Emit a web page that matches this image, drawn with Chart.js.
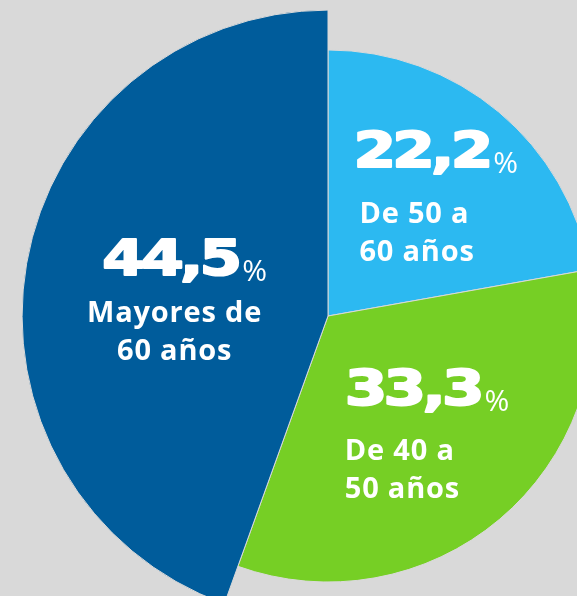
<!DOCTYPE html>
<html>
<head>
<meta charset="utf-8">
<style>
  html, body { margin: 0; padding: 0; background: #d9d9d9; }
  #wrap { width: 577px; height: 596px; position: relative; }
</style>
<script src="https://cdn.jsdelivr.net/npm/chart.js@4.4.0/dist/chart.umd.min.js"></script>
</head>
<body>
<div id="wrap"><canvas id="ageChart"></canvas></div>
<script>
// age groups, clockwise from 12 o'clock
const groups = ["De 50 a 60 años", "De 40 a 50 años", "Mayores de 60 años"];
const captions = [["De 50 a", "60 años"], ["De 40 a", "50 años"], ["Mayores de", "60 años"]];
const shares = [22.2, 33.3, 44.5];          // % of total (slice angle)
const emphasis = [100, 100, 115];           // relative slice length, the big group sticks out
const sliceColors = ["#2cb9f1", "#76cf25", "#005c9b"];

// text layout per slice, relative to the slice's mid point
const labelLayout = [
  { align: 'left',   dx: -72, dy: -33, capDx: 6,   gap: 56 },
  { align: 'left',   dx: -81, dy: -27, capDx: 0,   gap: 55 },
  { align: 'center', dx: 6,   dy: -15, capDx: -10, gap: 47 }
];

const NUM_FONT = 'bold 49px "DejaVu Sans"';
const NUM_STRETCH = 1.25;
const PCT_FONT = '30px "Open Sans"';
const CAP_FONT = 'bold 29px "Open Sans"';

const sliceLabels = {
  id: 'sliceLabels',
  afterDatasetsDraw(chart) {
    const ctx = chart.ctx;
    const meta = chart.getDatasetMeta(0);
    const base = chart.scales.r.getDistanceFromCenterForValue(100);
    ctx.save();
    ctx.fillStyle = '#ffffff';
    ctx.strokeStyle = '#ffffff';
    ctx.lineJoin = 'round';
    ctx.textBaseline = 'alphabetic';
    meta.data.forEach((arc, i) => {
      const p = arc.getProps(['x', 'y', 'startAngle', 'endAngle'], true);
      const mid = (p.startAngle + p.endAngle) / 2;
      const lay = labelLayout[i];
      const ax = p.x + Math.cos(mid) * base * 0.57 + lay.dx;
      const ay = p.y + Math.sin(mid) * base * 0.57 + lay.dy;

      const numText = shares[i].toFixed(1).replace('.', ',');
      ctx.font = NUM_FONT;
      ctx.letterSpacing = '-3px';
      const numW = (ctx.measureText(numText).width + 3) * NUM_STRETCH;
      ctx.letterSpacing = '0px';
      ctx.font = PCT_FONT;
      const pctW = ctx.measureText('%').width;
      const totalW = numW + pctW;

      let nx = lay.align === 'center' ? ax - totalW / 2 : ax;
      ctx.textAlign = 'left';
      ctx.save();
      ctx.translate(nx, ay);
      ctx.scale(NUM_STRETCH, 1);
      ctx.font = NUM_FONT;
      ctx.letterSpacing = '-3px';
      ctx.lineWidth = 2;
      ctx.fillText(numText, 0, 0);
      ctx.strokeText(numText, 0, 0);
      ctx.restore();
      ctx.font = PCT_FONT;
      ctx.letterSpacing = '0px';
      ctx.fillText('%', nx + numW, ay + 6);

      ctx.font = CAP_FONT;
      ctx.letterSpacing = '0.8px';
      ctx.textAlign = lay.align;
      captions[i].forEach((line, k) => {
        ctx.fillText(line, ax + lay.capDx, ay + lay.gap + k * 38);
      });
      ctx.letterSpacing = '0px';
    });
    ctx.restore();
  }
};

const ageChart = new Chart(document.getElementById('ageChart'), {
  type: 'polarArea',
  data: {
    labels: groups,
    datasets: [{
      data: emphasis,
      angle: shares.map(s => s * 3.6),
      backgroundColor: sliceColors,
      borderColor: '#d9d9d9',
      borderWidth: 1,
      clip: false
    }]
  },
  options: {
    responsive: true,
    maintainAspectRatio: false,
    animation: false,
    layout: { padding: { left: 79, right: 0, top: 36, bottom: 0 } },
    scales: {
      r: {
        display: false,
        min: 0,
        max: 93.6,
        startAngle: 0
      }
    },
    plugins: {
      legend: { display: false },
      tooltip: { enabled: false }
    }
  },
  plugins: [sliceLabels]
});
</script>
</body>
</html>
